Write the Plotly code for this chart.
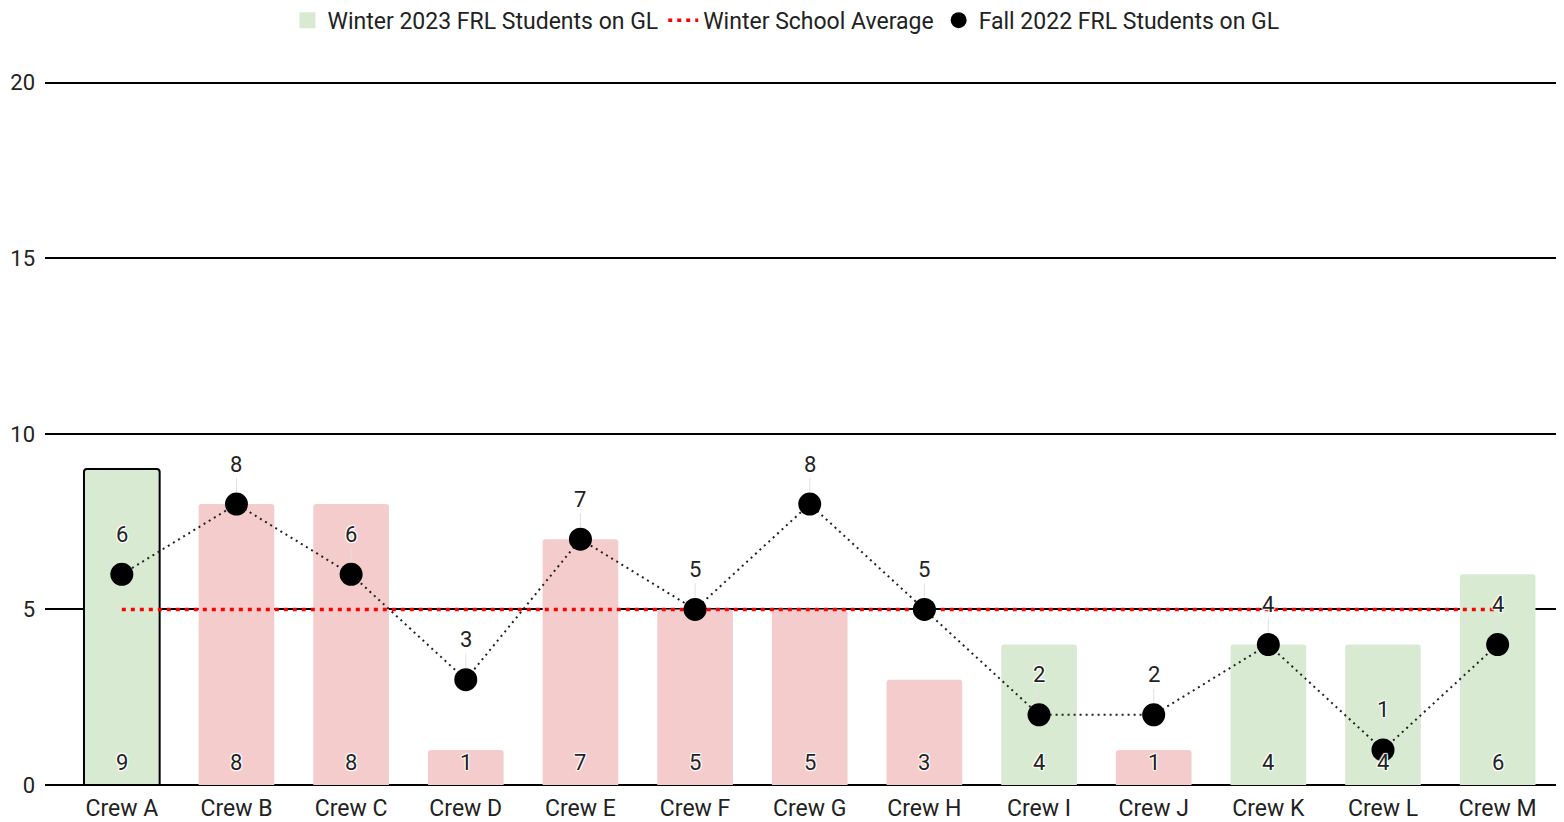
import plotly.graph_objects as go

crews = ["Crew A", "Crew B", "Crew C", "Crew D", "Crew E", "Crew F", "Crew G",
         "Crew H", "Crew I", "Crew J", "Crew K", "Crew L", "Crew M"]
winter_2023 = [9, 8, 8, 1, 7, 5, 5, 3, 4, 1, 4, 4, 6]
fall_2022 = [6, 8, 6, 3, 7, 5, 8, 5, 2, 2, 4, 1, 4]
winter_avg = [5] * len(crews)
bar_colors = ["#d9ead3", "#f4cccc", "#f4cccc", "#f4cccc", "#f4cccc", "#f4cccc", "#f4cccc",
              "#f4cccc", "#d9ead3", "#f4cccc", "#d9ead3", "#d9ead3", "#d9ead3"]
y_ticks = [0, 5, 10, 15, 20]

GREEN = "#d9ead3"
FONT = "Roboto, Arial, sans-serif"
TXT = "#222222"
FS = 23
HALO = "1px 1px 1px white, -1px -1px 1px white, 1px -1px 1px white, -1px 1px 1px white"

fig = go.Figure()

# barres hiver 2023
fig.add_trace(go.Bar(
    x=crews, y=winter_2023,
    name="Winter 2023 FRL Students on GL",
    marker=dict(color=bar_colors,
                line=dict(color=["#000000"] + ["rgba(0,0,0,0)"] * (len(crews) - 1), width=2)),
    width=0.66,
    showlegend=False,
))
fig.add_trace(go.Scatter(x=[None], y=[None], mode="markers", name="Winter 2023 FRL Students on GL",
                         marker=dict(color=GREEN, symbol="square", size=22)))

# valeurs des barres, en bas
for c, v in zip(crews, winter_2023):
    fig.add_annotation(x=c, y=0, text=str(v), showarrow=False, yanchor="bottom", yshift=8,
                       font=dict(size=FS - 1, color=TXT, family=FONT, shadow=HALO))

# moyenne de l'école
fig.add_trace(go.Scatter(
    x=crews, y=winter_avg, mode="lines",
    name="Winter School Average",
    line=dict(color="#ff0000", width=3.5, dash="4px,5px"),
))

# points automne 2022
fig.add_trace(go.Scatter(
    x=crews, y=fall_2022, mode="lines+markers",
    line=dict(color="#222222", width=2, dash="2px,4px"),
    marker=dict(color="#000000", size=23),
    showlegend=False,
))
fig.add_trace(go.Scatter(x=[None], y=[None], mode="markers", name="Fall 2022 FRL Students on GL",
                         marker=dict(color="#000000", size=23)))

for c, v in zip(crews, fall_2022):
    fig.add_annotation(
        x=c, y=v, text=str(v), showarrow=True, arrowhead=0, arrowwidth=1,
        arrowcolor="#e0e0e0", ax=0, ay=-40, standoff=12,
        font=dict(size=FS - 1, color=TXT, family=FONT, shadow=HALO),
        yanchor="middle",
    )

# la page a une marge de 8px : figure 1556x814
fig.update_layout(
    width=1556, height=814,
    plot_bgcolor="white", paper_bgcolor="white",
    margin=dict(l=37, r=1, t=73, b=37, autoexpand=False),
    barcornerradius=3,
    font=dict(family=FONT, size=FS, color=TXT),
    legend=dict(orientation="h", x=0.5, xanchor="center", xref="container",
                y=0.985, yanchor="middle", yref="container",
                font=dict(size=FS, color=TXT), itemwidth=30),
    xaxis=dict(range=[-0.67, 12.57], showgrid=False, zeroline=False, ticks="",
               tickfont=dict(size=FS, color=TXT), ticklabelstandoff=7),
    yaxis=dict(range=[0, 20.05], tickvals=y_ticks, showgrid=True, gridcolor="#000000", gridwidth=1.5,
               zeroline=True, zerolinecolor="#000000", zerolinewidth=1.5,
               tickfont=dict(size=FS - 1, color=TXT), ticklabelstandoff=9),
)

fig.write_html("out.html")
